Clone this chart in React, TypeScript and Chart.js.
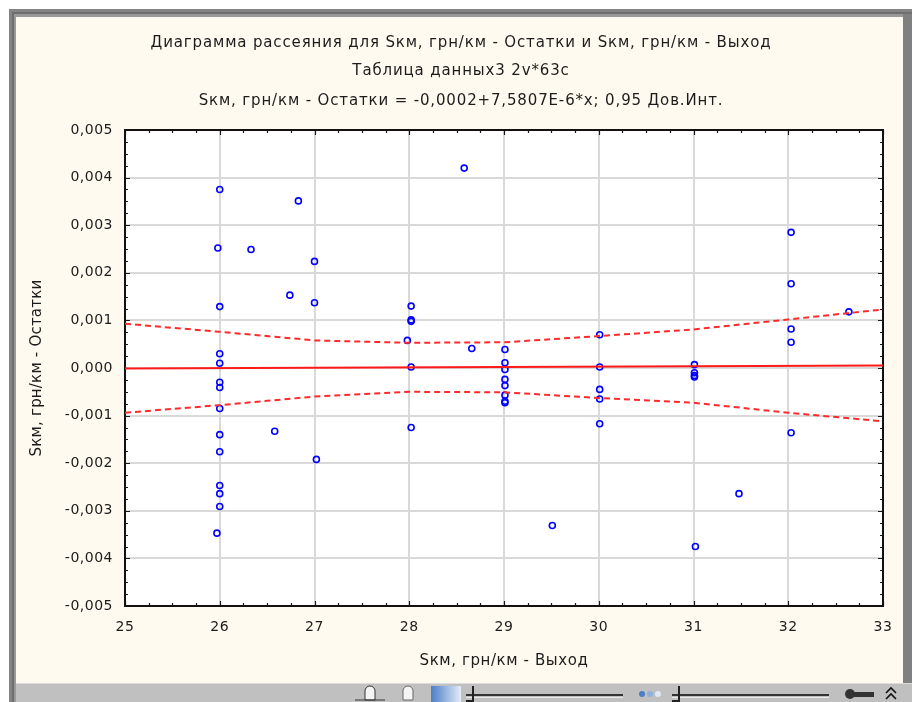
import React, { useEffect, useRef } from "react";
import { Chart, registerables } from "chart.js";

Chart.register(...registerables);

// ---- data ----
const titleLines = [
  "Диаграмма рассеяния для Sкм, грн/км - Остатки и Sкм, грн/км - Выход",
  "Таблица данных3 2v*63c",
  "Sкм, грн/км - Остатки = -0,0002+7,5807E-6*x; 0,95 Дов.Инт.",
];
const xAxisTitle = "Sкм, грн/км - Выход";
const yAxisTitle = "Sкм, грн/км - Остатки";

const xMin = 25;
const xMax = 33;
const yMin = -0.005;
const yMax = 0.005;
const yStep = 0.001;

// observed points: output (x) and residual (y)
const pointX = [
  26, 25.98, 26, 26, 26, 26, 26, 26, 26, 26, 26, 26, 26, 25.97,
  26.83, 26.33, 27.0, 26.74, 27.0, 26.58, 27.02,
  28.02, 28.02, 28.02, 27.98, 28.02, 28.02, 28.58, 28.66,
  29.01, 29.01, 29.01, 29.01, 29.01, 29.01, 29.01, 29.01, 29.51,
  30.01, 30.01, 30.01, 30.01, 30.01,
  31.01, 31.01, 31.01, 31.01, 31.02, 31.48,
  32.03, 32.03, 32.03, 32.03, 32.03, 32.64,
];
const pointY = [
  0.00375, 0.00252, 0.00129, 0.0003, 0.0001, -0.0003, -0.00041, -0.00085, -0.0014, -0.00176, -0.00247, -0.00264, -0.00291, -0.00347,
  0.00351, 0.00249, 0.00224, 0.00153, 0.00137, -0.00133, -0.00192,
  0.0013, 0.00101, 0.00098, 0.00058, 0.00002, -0.00125, 0.0042, 0.00041,
  0.00039, 0.00011, -0.00003, -0.00024, -0.00037, -0.00057, -0.0007, -0.00073, -0.00331,
  0.0007, 0.00002, -0.00045, -0.00065, -0.00117,
  0.00007, -0.0001, -0.00016, -0.00019, -0.00375, -0.00264,
  0.00285, 0.00177, 0.00082, 0.00054, -0.00136, 0.00118,
];

// fitted line: y = a + b*x
const fitA = -0.0002;
const fitB = 7.5807e-6;

// 0.95 confidence band
const bandX = [25, 26, 27, 28, 29, 30, 31, 32, 33];
const bandUpper = [0.00093, 0.00076, 0.00058, 0.00053, 0.00054, 0.00067, 0.00081, 0.00102, 0.00123];
const bandLower = [-0.00094, -0.00078, -0.0006, -0.0005, -0.00051, -0.00063, -0.00073, -0.00094, -0.00112];

// ---- style ----
const FONT = '"DejaVu Sans", sans-serif';
const CREAM = "#fffaef";
const TEXT = "#1c1c1c";

const fmtY = (v: number) => {
  let s = Number(v).toFixed(3);
  if (s === "-0.000") s = "0.000";
  return s.replace(".", ",");
};

const decorPlugin = {
  id: "decor",
  beforeDraw(chart: any) {
    const { ctx, width, height, chartArea } = chart;
    ctx.save();
    ctx.fillStyle = "#ffffff";
    ctx.fillRect(0, 0, width, height);
    // window frame
    ctx.fillStyle = "#858585";
    ctx.fillRect(9, 9, width - 9, height - 9);
    ctx.fillStyle = "#6e6e6e";
    ctx.fillRect(12, 12, width - 12, height - 12);
    ctx.fillStyle = "#9a9a9a";
    ctx.fillRect(14, 14, width - 14, height - 14);
    ctx.fillStyle = "#808080";
    ctx.fillRect(903, 14, width - 903, height - 14);
    ctx.fillStyle = CREAM;
    ctx.fillRect(16, 17, 903 - 16, 683 - 17);
    // toolbar
    ctx.fillStyle = "#dcdcdc";
    ctx.fillRect(16, 683, width - 16, 1);
    ctx.fillStyle = "#c0c0c0";
    ctx.fillRect(16, 684, width - 16, height - 684);
    // plot background
    ctx.fillStyle = "#ffffff";
    ctx.fillRect(chartArea.left, chartArea.top, chartArea.right - chartArea.left, chartArea.bottom - chartArea.top);
    ctx.restore();
    // slightly wider letter spacing for the tick labels
    ctx.letterSpacing = "0.5px";
  },
  beforeDatasetsDraw(chart: any) {
    const { ctx, chartArea, scales } = chart;
    const { left, right, top, bottom } = chartArea;
    ctx.save();
    ctx.strokeStyle = "#1a1a1a";
    ctx.lineWidth = 1.2;
    ctx.beginPath();
    // x ticks (major + 3 minor), top and bottom, pointing inward
    for (let v = xMin; v <= xMax + 1e-9; v += 0.25) {
      const px = Math.round(scales.x.getPixelForValue(v)) + 0.5;
      const major = Math.abs(v - Math.round(v)) < 1e-9;
      const len = major ? 5 : 3;
      ctx.moveTo(px, bottom);
      ctx.lineTo(px, bottom - len);
      ctx.moveTo(px, top);
      ctx.lineTo(px, top + len);
    }
    for (let i = 0; i <= 40; i++) {
      const v = yMin + (i * yStep) / 4;
      const py = Math.round(scales.y.getPixelForValue(v)) + 0.5;
      const len = i % 4 === 0 ? 5 : 3;
      ctx.moveTo(left, py);
      ctx.lineTo(left + len, py);
      ctx.moveTo(right, py);
      ctx.lineTo(right - len, py);
    }
    ctx.stroke();
    ctx.lineWidth = 2;
    ctx.strokeStyle = "#111111";
    ctx.strokeRect(left, top, right - left, bottom - top);
    ctx.restore();
  },
  afterDraw(chart: any) {
    const { ctx } = chart;
    ctx.save();
    ctx.fillStyle = TEXT;
    ctx.textAlign = "center";
    ctx.textBaseline = "middle";
    ctx.font = `15px ${FONT}`;
    ctx.letterSpacing = "0.85px";
    const ty = [43, 71, 101];
    titleLines.forEach((t, i) => ctx.fillText(t, 461, ty[i]));
    ctx.letterSpacing = "0.6px";
    ctx.fillText(xAxisTitle, 504, 661);
    ctx.letterSpacing = "0.2px";
    ctx.translate(37, 368);
    ctx.rotate(-Math.PI / 2);
    ctx.fillText(yAxisTitle, 0, 0);
    ctx.restore();

    // toolbar widgets
    ctx.save();
    ctx.letterSpacing = "0px";
    const y0 = 692;
    // hand with arrows
    ctx.fillStyle = "#f4f4f4";
    ctx.strokeStyle = "#333";
    ctx.lineWidth = 1;
    ctx.beginPath();
    ctx.arc(370, y0 - 1, 5, Math.PI, 0);
    ctx.lineTo(375, y0 + 8);
    ctx.lineTo(365, y0 + 8);
    ctx.closePath();
    ctx.fill();
    ctx.stroke();
    ctx.beginPath();
    ctx.moveTo(355, y0 + 8);
    ctx.lineTo(385, y0 + 8);
    ctx.stroke();
    // hand
    ctx.beginPath();
    ctx.arc(408, y0 - 1, 5, Math.PI, 0);
    ctx.lineTo(413, y0 + 8);
    ctx.lineTo(403, y0 + 8);
    ctx.closePath();
    ctx.fill();
    ctx.strokeStyle = "#666";
    ctx.stroke();
    // gradient swatch
    const g = ctx.createLinearGradient(431, 0, 461, 0);
    g.addColorStop(0, "#4a7fc8");
    g.addColorStop(1, "#e4ecf8");
    ctx.fillStyle = g;
    ctx.fillRect(431, 686, 30, 16);
    // sliders
    const slider = (x1: number, x2: number) => {
      ctx.fillStyle = "#333";
      ctx.fillRect(x1, 694, x2 - x1, 2);
      ctx.fillStyle = "#e8e8e8";
      ctx.fillRect(x1, 697, x2 - x1, 1);
      ctx.fillStyle = "#222";
      ctx.fillRect(x1 + 6, 686, 2, 16);
      ctx.fillRect(x1, 700, 8, 2);
    };
    slider(466, 623);
    slider(672, 829);
    // dots
    [["#4a7fc8", 642], ["#8fb0de", 650], ["#e0e8f5", 658]].forEach(([c, x]) => {
      ctx.fillStyle = c as string;
      ctx.beginPath();
      ctx.arc(x as number, 694, 3, 0, Math.PI * 2);
      ctx.fill();
    });
    // key
    ctx.fillStyle = "#333";
    ctx.fillRect(852, 692, 22, 5);
    ctx.beginPath();
    ctx.arc(850, 694, 5, 0, Math.PI * 2);
    ctx.fill();
    // chevrons
    ctx.strokeStyle = "#111";
    ctx.lineWidth = 1.6;
    ctx.beginPath();
    ctx.moveTo(886, 693);
    ctx.lineTo(891, 688);
    ctx.lineTo(896, 693);
    ctx.moveTo(886, 699);
    ctx.lineTo(891, 694);
    ctx.lineTo(896, 699);
    ctx.stroke();
    ctx.restore();
  },
};

export default function App() {
  const ref = useRef<HTMLCanvasElement | null>(null);

  useEffect(() => {
    if (!ref.current) return;
    const points = pointX.map((x, i) => ({ x, y: pointY[i] }));
    const fit = [xMin, xMax].map((x) => ({ x, y: fitA + fitB * x }));
    const upper = bandX.map((x, i) => ({ x, y: bandUpper[i] }));
    const lower = bandX.map((x, i) => ({ x, y: bandLower[i] }));

    const chart = new Chart(ref.current, {
      type: "scatter",
      data: {
        datasets: [
          {
            data: fit,
            showLine: true,
            borderColor: "#ff1a1a",
            borderWidth: 2,
            pointRadius: 0,
          },
          {
            data: upper,
            showLine: true,
            borderColor: "#ff2a2a",
            borderWidth: 2,
            borderDash: [6, 4],
            pointRadius: 0,
          },
          {
            data: lower,
            showLine: true,
            borderColor: "#ff2a2a",
            borderWidth: 2,
            borderDash: [6, 4],
            pointRadius: 0,
          },
          {
            data: points,
            showLine: false,
            pointStyle: "circle",
            pointRadius: 3,
            pointBorderWidth: 1.6,
            pointBorderColor: "#0000ff",
            pointBackgroundColor: "rgba(255,255,255,0)",
          },
        ],
      },
      options: {
        animation: false,
        responsive: false,
        devicePixelRatio: 1,
        layout: { padding: { left: 0, right: 29, top: 130, bottom: 0 } },
        plugins: { legend: { display: false }, tooltip: { enabled: false }, title: { display: false } },
        scales: {
          x: {
            type: "linear",
            min: xMin,
            max: xMax,
            afterFit: (s: any) => {
              s.height = 96;
            },
            ticks: {
              stepSize: 1,
              padding: 13,
              color: TEXT,
              font: { family: FONT, size: 14 },
            },
            grid: { color: "#d9d9d9", lineWidth: 2, drawTicks: false },
            border: { display: false },
          },
          y: {
            type: "linear",
            min: yMin,
            max: yMax,
            afterFit: (s: any) => {
              s.width = 125;
            },
            ticks: {
              stepSize: yStep,
              padding: 12,
              color: TEXT,
              font: { family: FONT, size: 14 },
              callback: (v: any) => fmtY(Number(v)),
            },
            grid: { color: "#d9d9d9", lineWidth: 2, drawTicks: false },
            border: { display: false },
          },
        },
      },
      plugins: [decorPlugin],
    } as any);
    return () => chart.destroy();
  }, []);

  return (
    <div style={{ position: "absolute", left: 0, top: 0, width: 912, height: 702 }}>
      <canvas ref={ref} width={912} height={702} style={{ display: "block", width: 912, height: 702 }} />
    </div>
  );
}
